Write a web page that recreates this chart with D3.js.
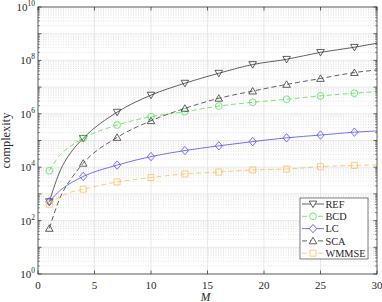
<!DOCTYPE html>
<html>
<head>
<meta charset="utf-8">
<script src="https://d3js.org/d3.v7.min.js"></script>
<style>
    body { margin: 0; background: #fff; }
    svg { display: block; }
    text { font-family: "Liberation Serif", "DejaVu Serif", serif; fill: #262626; }
</style>
</head>
<body>
<svg id="chart" width="382" height="302"></svg>
<script>
    // data
    const M = [1, 2, 3, 4, 7, 10, 13, 16, 19, 22, 25, 28, 30];
    const REF = [5.1e2, 8e3, 4e4, 1.2e5, 1.15e6, 5e6, 1.4e7, 3.3e7, 7e7, 1.1e8, 2e8, 3.1e8, 4.4e8];
    const BCD = [7.4e3, 3e4, 6.6e4, 1.2e5, 3.8e5, 7.8e5, 1.2e6, 1.95e6, 2.7e6, 3.5e6, 4.7e6, 5.9e6, 6.8e6];
    const LC = [5.1e2, 1.4e3, 2.7e3, 4.5e3, 1.2e4, 2.5e4, 4.2e4, 6.3e4, 9.1e4, 1.26e5, 1.6e5, 2.05e5, 2.3e5];
    const SCA = [51, 8e2, 4e3, 1.4e4, 1.3e5, 5.5e5, 1.6e6, 3.8e6, 7.1e6, 1.26e7, 2.1e7, 3.5e7, 4.4e7];
    const WMMSE = [4.1e2, 8e2, 1.2e3, 1.5e3, 2.8e3, 4.1e3, 5.6e3, 6.6e3, 7.9e3, 8.5e3, 1.05e4, 1.17e4, 1.23e4];
    const xTicks = [0, 5, 10, 15, 20, 25, 30];
    const yDecades = [0, 2, 4, 6, 8, 10];
    const names = ["REF", "BCD", "LC", "SCA", "WMMSE"];

    const styles = {
        REF:   {color: "#3a3a3a", dash: null,  marker: "tdown"},
        BCD:   {color: "#55e055", dash: "5,3", marker: "circle"},
        LC:    {color: "#4f4ff5", dash: null,  marker: "diamond"},
        SCA:   {color: "#3a3a3a", dash: "5,3", marker: "tup"},
        WMMSE: {color: "#fcbf5c", dash: "5,3", marker: "square"}
    };
    const seriesValues = {REF, BCD, LC, SCA, WMMSE};

    const margin = {top: 7, right: 5, bottom: 28, left: 38};
    const W = 382, H = 302;
    const width = W - margin.left - margin.right;
    const height = H - margin.top - margin.bottom;

    const svg = d3.select("#chart");
    const g = svg.append("g").attr("transform", `translate(${margin.left},${margin.top})`);

    const x = d3.scaleLinear().domain([0, 30]).range([0, width]);
    const y = d3.scaleLog().domain([1, 1e10]).range([height, 0]);

    // grid
    const minor = [];
    for (let d = 0; d < 10; d++) for (let k = 2; k <= 9; k++) minor.push(k * Math.pow(10, d));
    g.selectAll(".ming").data(minor).enter().append("line")
        .attr("x1", 0).attr("x2", width)
        .attr("y1", d => y(d)).attr("y2", d => y(d))
        .attr("stroke", "#d4d4d4").attr("stroke-width", 0.6).attr("stroke-dasharray", "1,1.5");
    g.selectAll(".majy").data(d3.range(0, 11)).enter().append("line")
        .attr("x1", 0).attr("x2", width)
        .attr("y1", d => y(Math.pow(10, d))).attr("y2", d => y(Math.pow(10, d)))
        .attr("stroke", "#e3e3e3").attr("stroke-width", 0.8);
    g.selectAll(".majx").data(xTicks).enter().append("line")
        .attr("x1", d => x(d)).attr("x2", d => x(d))
        .attr("y1", 0).attr("y2", height)
        .attr("stroke", "#e3e3e3").attr("stroke-width", 0.8);

    // lines and markers
    const line = d3.line().x(d => x(d[0])).y(d => y(d[1])).curve(d3.curveMonotoneX);

    function markerPath(type) {
        switch (type) {
            case "tdown": return "M-3.8,-2.9L3.8,-2.9L0,3.6Z";
            case "tup": return "M-3.8,2.9L3.8,2.9L0,-3.6Z";
            case "circle": return "M3.4,0A3.4,3.4 0 1 1 -3.4,0A3.4,3.4 0 1 1 3.4,0Z";
            case "diamond": return "M0,-4.2L3.6,0L0,4.2L-3.6,0Z";
            case "square": return "M-3,-3L3,-3L3,3L-3,3Z";
        }
    }

    names.forEach(name => {
        const st = styles[name];
        const pts = M.map((m, i) => [m, seriesValues[name][i]]);
        g.append("path").datum(pts)
            .attr("d", line)
            .attr("fill", "none")
            .attr("stroke", st.color)
            .attr("stroke-width", 0.8)
            .attr("stroke-dasharray", st.dash);
        g.selectAll(".mk-" + name).data(pts.filter(p => p[0] % 3 === 1)).enter().append("path")
            .attr("transform", d => `translate(${x(d[0])},${y(d[1])})`)
            .attr("d", markerPath(st.marker))
            .attr("fill", "none")
            .attr("stroke", st.color)
            .attr("stroke-width", 0.8);
    });

    // axes box and ticks
    const axisColor = "#262626";
    g.append("rect").attr("width", width).attr("height", height)
        .attr("fill", "none").attr("stroke", axisColor).attr("stroke-width", 0.7);

    const tl = 3.5;
    xTicks.forEach(t => {
        g.append("line").attr("x1", x(t)).attr("x2", x(t)).attr("y1", height).attr("y2", height - tl)
            .attr("stroke", axisColor).attr("stroke-width", 0.7);
        g.append("line").attr("x1", x(t)).attr("x2", x(t)).attr("y1", 0).attr("y2", tl)
            .attr("stroke", axisColor).attr("stroke-width", 0.7);
        g.append("text").attr("x", x(t)).attr("y", height + 14.5)
            .attr("text-anchor", "middle").attr("font-size", 11).text(t);
    });

    d3.range(0, 11).forEach(d => {
        const yy = y(Math.pow(10, d));
        g.append("line").attr("x1", 0).attr("x2", tl).attr("y1", yy).attr("y2", yy)
            .attr("stroke", axisColor).attr("stroke-width", 0.7);
        g.append("line").attr("x1", width).attr("x2", width - tl).attr("y1", yy).attr("y2", yy)
            .attr("stroke", axisColor).attr("stroke-width", 0.7);
    });
    minor.forEach(v => {
        const yy = y(v);
        g.append("line").attr("x1", 0).attr("x2", 2).attr("y1", yy).attr("y2", yy)
            .attr("stroke", axisColor).attr("stroke-width", 0.5);
        g.append("line").attr("x1", width).attr("x2", width - 2).attr("y1", yy).attr("y2", yy)
            .attr("stroke", axisColor).attr("stroke-width", 0.5);
    });

    yDecades.forEach(d => {
        const t = g.append("text").attr("x", -3).attr("y", y(Math.pow(10, d)) + 4)
            .attr("text-anchor", "end").attr("font-size", 11);
        t.append("tspan").text("10");
        t.append("tspan").attr("dy", -5).attr("font-size", 7.5).text(d);
    });

    // axis labels
    g.append("text").attr("x", width / 2 - 2).attr("y", height + 26.5)
        .attr("text-anchor", "middle").attr("font-size", 11.5).attr("font-style", "italic").text("M");
    g.append("text")
        .attr("transform", `translate(${-28.5},${height / 2}) rotate(-90)`)
        .attr("text-anchor", "middle").attr("font-size", 12.4).text("complexity");

    // legend
    const lg = svg.append("g").attr("transform", "translate(300,198)");
    lg.append("rect").attr("width", 68).attr("height", 61)
        .attr("fill", "#fff").attr("stroke", axisColor).attr("stroke-width", 0.6);
    names.forEach((name, i) => {
        const st = styles[name];
        const yy = 6 + i * 12.3;
        lg.append("line").attr("x1", 2).attr("x2", 24).attr("y1", yy).attr("y2", yy)
            .attr("stroke", st.color).attr("stroke-width", 0.8).attr("stroke-dasharray", st.dash);
        lg.append("path").attr("transform", `translate(13,${yy})`)
            .attr("d", markerPath(st.marker))
            .attr("fill", "#fff").attr("stroke", st.color).attr("stroke-width", 0.8);
        lg.append("text").attr("x", 25.5).attr("y", yy + 3.6).attr("font-size", 10.3).text(name);
    });
</script>
</body>
</html>
